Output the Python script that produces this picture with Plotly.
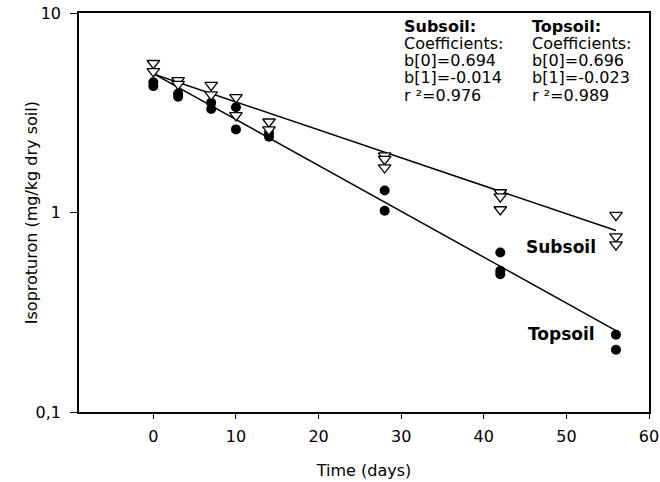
import plotly.graph_objects as go

# Subsoil (open down-triangles)
sub_t = [0, 0, 3, 3, 7, 7, 10, 10, 14, 14, 28, 28, 28, 42, 42, 42, 56, 56, 56]
sub_v = [5.6, 5.1, 4.6, 4.4, 4.35, 3.9, 3.78, 3.07, 2.85, 2.6, 1.93, 1.85, 1.68,
         1.26, 1.2, 1.035, 0.97, 0.757, 0.69]
# Topsoil (filled circles)
top_t = [0, 0, 3, 3, 7, 7, 10, 10, 14, 14, 28, 28, 42, 42, 42, 56, 56]
top_v = [4.5, 4.3, 3.95, 3.8, 3.55, 3.3, 3.37, 2.61, 2.5, 2.4, 1.29, 1.02,
         0.63, 0.51, 0.49, 0.244, 0.205]

# Regression coefficients (log10 y = b0 + b1 * t)
sub_b = [0.694, -0.014]
top_b = [0.696, -0.023]
sub_r2 = 0.976
top_r2 = 0.989
fit_t = [0, 56]

x_ticks = [0, 10, 20, 30, 40, 50, 60]
y_tickvals = [0.1, 1, 10]
y_ticktext = ["0,1", "1", "10"]

FONT = "DejaVu Sans, Liberation Sans, Arial, sans-serif"

fig = go.Figure()

fig.add_trace(go.Scatter(
    x=fit_t, y=[10 ** (sub_b[0] + sub_b[1] * t) for t in fit_t],
    mode="lines", line=dict(color="black", width=1.5), showlegend=False,
    hoverinfo="skip"))
fig.add_trace(go.Scatter(
    x=fit_t, y=[10 ** (top_b[0] + top_b[1] * t) for t in fit_t],
    mode="lines", line=dict(color="black", width=1.5), showlegend=False,
    hoverinfo="skip"))

fig.add_trace(go.Scatter(
    x=top_t, y=top_v, mode="markers",
    marker=dict(symbol="circle", size=10, color="black"),
    showlegend=False))
fig.add_trace(go.Scatter(
    x=sub_t, y=sub_v, mode="markers",
    marker=dict(symbol="triangle-down", size=11, color="white",
                line=dict(color="black", width=1.3)),
    showlegend=False))

ann = []
# Series labels
ann.append(dict(x=49.3, y=-0.173, xref="x", yref="y", text="<b>Subsoil</b>",
                showarrow=False, font=dict(size=17, color="black", family=FONT)))
ann.append(dict(x=49.4, y=-0.609, xref="x", yref="y", text="<b>Topsoil</b>",
                showarrow=False, font=dict(size=17, color="black", family=FONT)))

ys = [0.967, 0.924, 0.882, 0.839, 0.794]
cols = [
    (0.567, ["<b>Subsoil:</b>", "Coefficients:", "b[0]=%.3f" % sub_b[0],
             "b[1]=%.3f" % sub_b[1], "r ²=%.3f" % sub_r2]),
    (0.791, ["<b>Topsoil:</b>", "Coefficients:", "b[0]=%.3f" % top_b[0],
             "b[1]=%.3f" % top_b[1], "r ²=%.3f" % top_r2]),
]
for xp, lines in cols:
    for yp, txt in zip(ys, lines):
        ann.append(dict(x=xp, y=yp, xref="paper", yref="paper", text=txt,
                        xanchor="left", yanchor="middle", showarrow=False,
                        font=dict(size=16, color="black", family=FONT)))

# Y-axis title as a rotated annotation
ann.append(dict(x=-0.083, y=0.5, xref="paper", yref="paper",
                text="Isoproturon (mg/kg dry soil)", textangle=-90,
                xanchor="center", yanchor="middle", showarrow=False,
                font=dict(size=16, color="black", family=FONT)))

fig.update_layout(
    width=660, height=482,
    margin=dict(l=79, r=11, t=13, b=70),
    paper_bgcolor="white", plot_bgcolor="white",
    font=dict(family=FONT, size=16, color="black"),
    annotations=ann,
    xaxis=dict(range=[-9.0, 60], tickvals=x_ticks, ticks="outside", ticklen=5,
               tickcolor="black", showline=True, linecolor="black", linewidth=1.5,
               mirror=True, showgrid=False, zeroline=False, automargin=False,
               ticklabelstandoff=4, ticklabeloverflow="allow",
               title=dict(text="Time (days)", standoff=20, font=dict(size=16)),
               tickfont=dict(size=16)),
    yaxis=dict(type="log", range=[-1, 1], tickvals=y_tickvals, ticktext=y_ticktext,
               ticks="outside", ticklen=7, tickcolor="black", showline=True,
               linecolor="black", linewidth=1.5, mirror=True, showgrid=False,
               zeroline=False, automargin=False, ticklabelstandoff=6,
               ticklabeloverflow="allow",
               tickfont=dict(size=16)),
)

# remove the page's default body margin so the figure fills the window exactly
fig.write_html("out.html",
               config={"displayModeBar": False},
               post_script="document.body.style.margin='0';"
                           "document.body.style.overflow='hidden';")
